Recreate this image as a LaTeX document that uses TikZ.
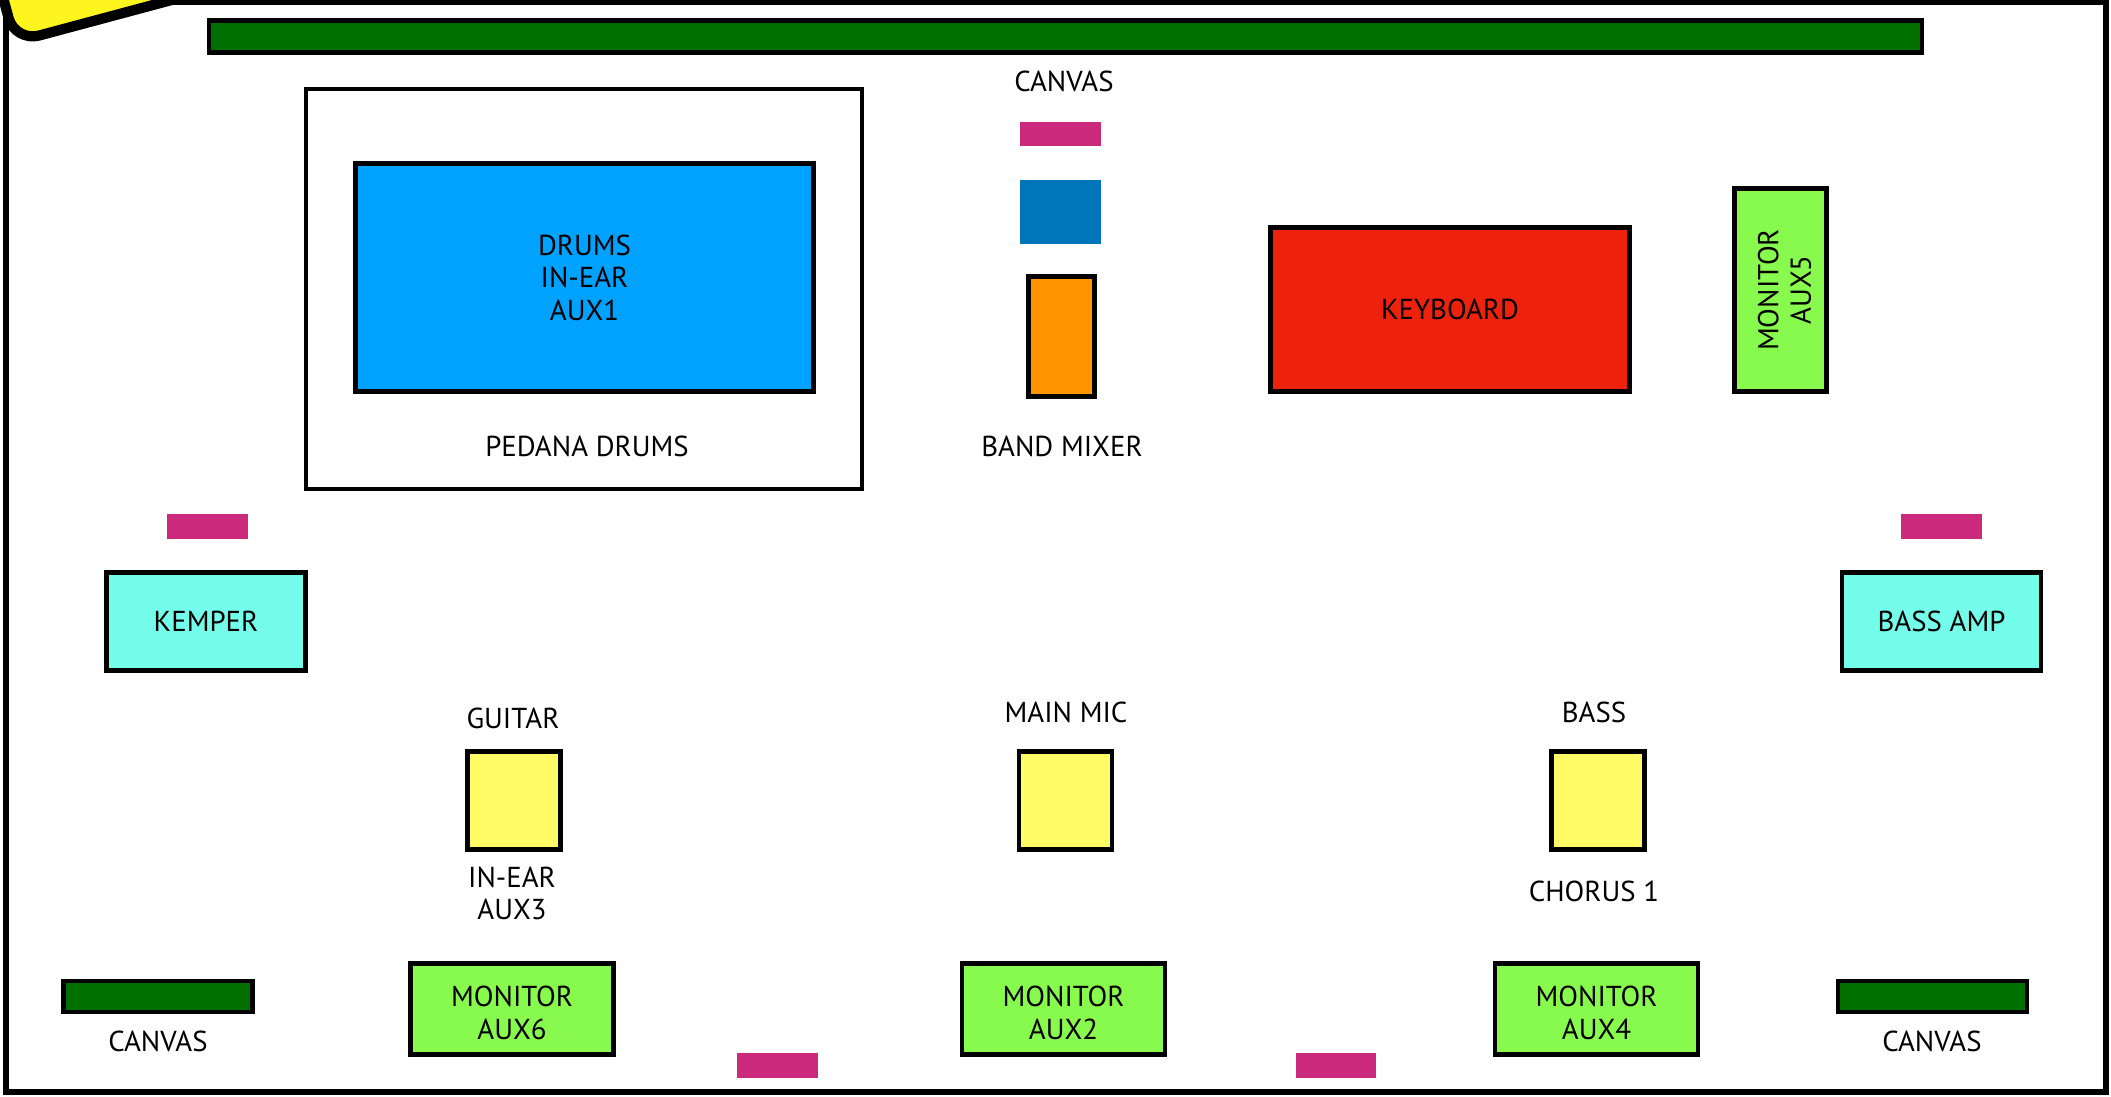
\documentclass[tikz,border=0pt]{standalone}
\usepackage{fontspec}
\setmainfont{PT Sans}
\definecolor{canvasgreen}{RGB}{0,112,0}
\definecolor{drumblue}{RGB}{0,162,255}
\definecolor{mixblue}{RGB}{0,118,186}
\definecolor{padpink}{RGB}{203,41,123}
\definecolor{mixorange}{RGB}{255,147,0}
\definecolor{keyred}{RGB}{238,34,12}
\definecolor{monitorgreen}{RGB}{136,250,78}
\definecolor{ampcyan}{RGB}{115,253,234}
\definecolor{micyellow}{RGB}{255,252,102}
\definecolor{tagyellow}{RGB}{255,245,30}
\begin{document}
\begin{tikzpicture}[x=0.01cm, y=-0.01cm, font=\fontsize{8.2}{9.2}\selectfont]
\tikzset{
	unit/.style={draw, line width=1.3pt, inner sep=0pt, align=center, text depth=0pt},
	canvas/.style={unit, fill=canvasgreen, minimum height=0.31cm},
	monitor/.style={unit, fill=monitorgreen, minimum width=2.03cm, minimum height=0.91cm, text height=17.2pt},
	amp/.style={unit, fill=ampcyan, minimum width=1.99cm, minimum height=0.98cm},
	mic/.style={unit, fill=micyellow, minimum width=0.93cm, minimum height=0.98cm},
	pad/.style={fill=padpink, inner sep=0pt, minimum width=0.8cm, minimum height=0.24cm},
	lbl/.style={inner sep=0pt, align=center, text depth=0pt}
}
\useasboundingbox (0,0) rectangle (2111,1097);

% Stage frame and corner tag
\draw[line width=1.45pt] (6,2) rectangle (2106,1092);
\begin{scope}
\clip (0,0) rectangle (2111,1097);
\draw[line width=2.9pt, fill=tagyellow, rounded corners=0.25cm, rotate around={15:(15,42)}] (15,42) rectangle (315,-158);
\end{scope}

% Back line
\node[canvas, minimum width=17.12cm, minimum height=0.32cm] (canvastop) at (1065.5,36.5) {};
\node[lbl] (canvastoplbl) at (1064,81) {CANVAS};

\node[unit, fill=white, minimum width=5.56cm, minimum height=4.0cm] (pedana) at (584,289) {};
\node[unit, fill=drumblue, minimum width=4.58cm, minimum height=2.28cm] (drums) at (584.5,277.5) {DRUMS\\IN-EAR\\AUX1};
\node[lbl] (pedanalbl) at (587,446) {PEDANA DRUMS};

\node[pad] (padtop) at (1060.5,134) {};
\node[fill=mixblue, inner sep=0pt, minimum width=0.81cm, minimum height=0.64cm] (mixblue) at (1060.5,212) {};
\node[unit, fill=mixorange, minimum width=0.66cm, minimum height=1.2cm] (mixer) at (1061.5,336.5) {};
\node[lbl] (mixerlbl) at (1062,446) {BAND MIXER};

\node[unit, fill=keyred, minimum width=3.59cm, minimum height=1.64cm] (keys) at (1450,309.5) {KEYBOARD};
\node[monitor, rotate=90, minimum width=2.03cm, minimum height=0.92cm] (aux5) at (1780.5,290) {MONITOR\\AUX5};

% Amps
\node[pad] (padleft) at (207.5,526.5) {};
\node[pad] (padright) at (1941.5,526.5) {};
\node[amp] (kemper) at (206,621.5) {KEMPER};
\node[amp] (bassamp) at (1941.5,621.5) {BASS AMP};

% Front line
\node[lbl] (guitarlbl) at (513,718) {GUITAR};
\node[mic] (guitar) at (514,800.5) {};
\node[lbl] (aux3) at (512,893) {IN-EAR\\AUX3};

\node[lbl] (mainlbl) at (1066,712) {MAIN MIC};
\node[mic] (mainmic) at (1065.5,800.5) {};

\node[lbl] (basslbl) at (1594,712) {BASS};
\node[mic] (bass) at (1598,800.5) {};
\node[lbl] (chorus) at (1594,891) {CHORUS 1};

\node[canvas, minimum width=1.89cm] (canvasleft) at (158,996.5) {};
\node[lbl] (canvasleftlbl) at (158,1041) {CANVAS};
\node[canvas, minimum width=1.89cm] (canvasright) at (1932.5,996.5) {};
\node[lbl] (canvasrightlbl) at (1932,1041) {CANVAS};

\node[monitor] (aux6) at (512,1009) {MONITOR\\AUX6};
\node[monitor] (aux2) at (1063.5,1009) {MONITOR\\AUX2};
\node[monitor] (aux4) at (1596.5,1009) {MONITOR\\AUX4};

\node[pad] (padfrontl) at (777.5,1065.5) {};
\node[pad] (padfrontr) at (1336,1065.5) {};

\end{tikzpicture}
\end{document}
